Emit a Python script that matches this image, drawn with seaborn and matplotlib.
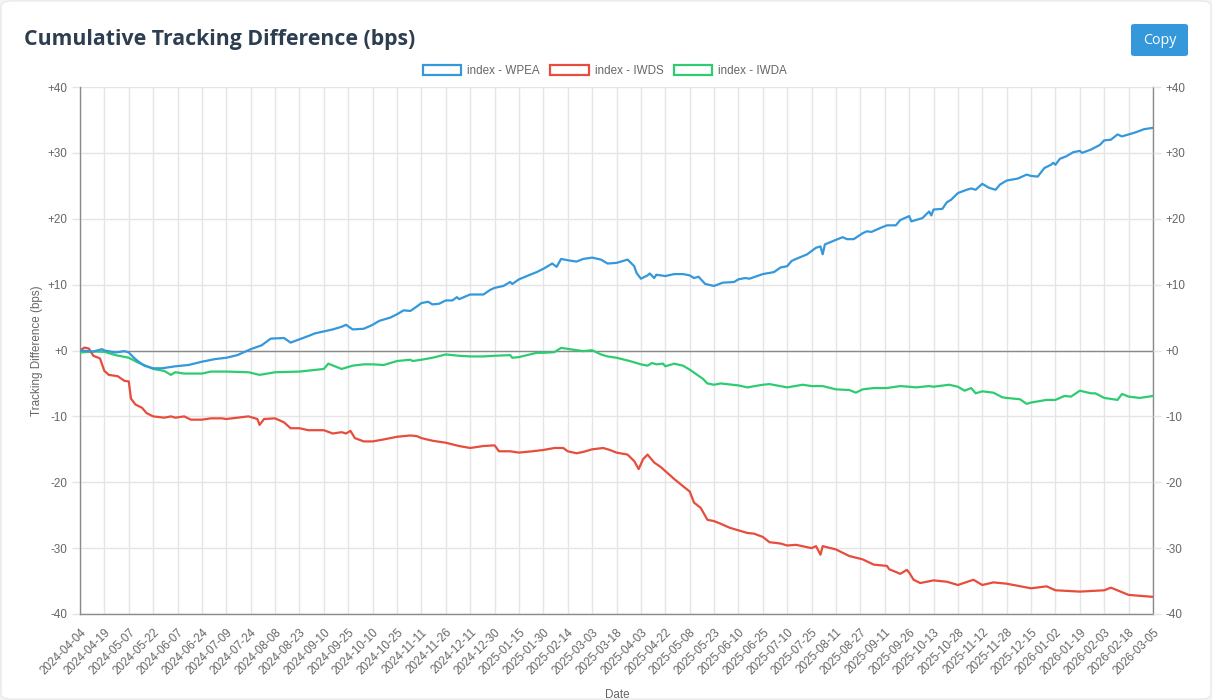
import matplotlib
matplotlib.use('Agg')
import matplotlib.pyplot as plt
import seaborn as sns
import pandas as pd
from matplotlib.patches import Patch, FancyBboxPatch

# ---------------- data ----------------
tick_labels = [
    "2024-04-04", "2024-04-19", "2024-05-07", "2024-05-22", "2024-06-07", "2024-06-24",
    "2024-07-09", "2024-07-24", "2024-08-08", "2024-08-23", "2024-09-10", "2024-09-25",
    "2024-10-10", "2024-10-25", "2024-11-11", "2024-11-26", "2024-12-11", "2024-12-30",
    "2025-01-15", "2025-01-30", "2025-02-14", "2025-03-03", "2025-03-18", "2025-04-03",
    "2025-04-22", "2025-05-08", "2025-05-23", "2025-06-10", "2025-06-25", "2025-07-10",
    "2025-07-25", "2025-08-11", "2025-08-27", "2025-09-11", "2025-09-26", "2025-10-13",
    "2025-10-28", "2025-11-12", "2025-11-28", "2025-12-15", "2026-01-02", "2026-01-19",
    "2026-02-03", "2026-02-18", "2026-03-05",
]
TICK_EVERY = 11          # trading days between labelled ticks
series_names = ["index - WPEA", "index - IWDS", "index - IWDA"]
series_colors = ["#3498db", "#e74c3c", "#2ecc71"]
y_ticks = [-40, -30, -20, -10, 0, 10, 20, 30, 40]

# (trading-day index, cumulative tracking difference in bps)
wpea = [(0,0.0),(6,-0.15),(10,0.2),(11,0.0),(16,-0.3),(20,-0.1),(22,-0.3),(24,-1.0),(26,-1.6),(29,-2.3),
        (33,-2.7),(37,-2.7),(43,-2.4),(49,-2.2),(55,-1.7),(61,-1.3),(66,-1.1),(71,-0.7),(77,0.2),(82,0.8),
        (86,1.8),(92,1.9),(95,1.2),(99,1.7),(103,2.2),(106,2.6),(110,2.9),(114,3.2),(118,3.6),(120,3.9),
        (123,3.2),(128,3.3),(132,3.9),(135,4.5),(140,5.0),(143,5.5),(146,6.1),(149,6.0),(152,6.7),(154,7.2),
        (157,7.4),(159,7.0),(162,7.1),(165,7.6),(168,7.6),(170,8.1),(171,7.8),(176,8.5),(182,8.5),(185,9.2),
        (187,9.5),(191,9.8),(194,10.4),(195,10.1),(198,10.8),(203,11.5),(206,11.9),(209,12.4),(213,13.2),(215,12.7),
        (217,13.9),(220,13.7),(224,13.5),(227,13.9),(231,14.1),(235,13.8),(238,13.2),(242,13.3),(247,13.8),(250,12.8),
        (251,11.8),(253,10.9),(256,11.4),(257,11.7),(259,11.0),(260,11.5),(264,11.3),(268,11.6),(272,11.6),(275,11.4),
        (277,11.0),(279,11.2),(282,10.1),(286,9.8),(290,10.3),(295,10.4),(297,10.8),(300,11.0),(302,10.9),(308,11.6),
        (313,11.9),(316,12.6),(319,12.8),(321,13.6),(323,13.9),(328,14.6),(332,15.6),(334,15.8),(335,14.6),(336,16.1),
        (341,16.8),(344,17.2),(346,16.9),(349,16.9),(353,17.8),(355,18.1),(357,18.0),(361,18.6),(364,19.0),(368,19.0),
        (370,19.8),(374,20.4),(375,19.6),(379,20.0),(380,20.1),(383,21.1),(384,20.5),(385,21.4),(389,21.5),(391,22.5),
        (393,22.9),(396,23.9),(400,24.4),(402,24.6),(404,24.4),(407,25.3),(410,24.7),(413,24.4),(415,25.2),(418,25.8),
        (423,26.1),(427,26.7),(429,26.5),(432,26.4),(435,27.7),(438,28.2),(439,28.5),(440,28.2),(442,29.1),(445,29.5),
        (448,30.1),(451,30.3),(452,30.0),(456,30.5),(460,31.2),(462,31.9),(465,32.0),(468,32.8),(470,32.5),(473,32.8),
        (476,33.1),(480,33.6),(482,33.7),(484,33.8)]

iwds = [(0,0.0),(2,0.45),(4,0.3),(6,-0.8),(9,-1.2),(11,-3.1),(13,-3.7),(17,-3.9),(20,-4.6),(22,-4.7),
        (23,-7.3),(25,-8.2),(28,-8.7),(30,-9.5),(33,-10.0),(38,-10.2),(41,-10.0),(43,-10.2),(47,-10.0),(50,-10.5),
        (55,-10.5),(59,-10.3),(64,-10.3),(66,-10.4),(76,-10.0),(80,-10.4),(81,-11.3),(83,-10.4),(88,-10.3),(92,-10.9),
        (95,-11.8),(99,-11.8),(103,-12.1),(110,-12.1),(114,-12.6),(118,-12.4),(120,-12.6),(122,-12.2),(124,-13.3),(128,-13.8),
        (132,-13.8),(137,-13.5),(143,-13.1),(149,-12.9),(152,-13.0),(154,-13.3),(159,-13.7),(165,-14.0),(171,-14.5),(176,-14.8),
        (182,-14.5),(187,-14.4),(189,-15.3),(194,-15.3),(198,-15.5),(204,-15.3),(209,-15.1),(214,-14.8),(218,-14.8),(220,-15.3),
        (224,-15.6),(227,-15.4),(231,-15.0),(236,-14.8),(239,-15.1),(242,-15.5),(247,-15.8),(250,-16.8),(252,-18.0),(254,-16.5),
        (256,-15.8),(259,-17.0),(262,-17.7),(264,-18.3),(268,-19.5),(272,-20.6),(275,-21.4),(277,-23.1),(280,-23.9),(283,-25.7),
        (286,-25.9),(289,-26.3),(293,-26.9),(297,-27.3),(301,-27.7),(304,-27.8),(308,-28.3),(311,-29.1),(316,-29.3),(319,-29.6),
        (323,-29.5),(330,-30.0),(332,-29.7),(334,-31.0),(335,-29.7),(341,-30.2),(347,-31.2),(353,-31.7),(358,-32.5),(364,-32.7),
        (365,-33.2),(370,-33.9),(373,-33.3),(374,-33.7),(376,-34.8),(379,-35.3),(385,-34.9),(391,-35.1),(396,-35.6),(403,-34.8),
        (407,-35.6),(412,-35.2),(418,-35.4),(429,-36.1),(436,-35.8),(440,-36.4),(451,-36.6),(462,-36.4),(465,-36.0),(473,-37.1),
        (484,-37.4)]

iwda = [(0,-0.3),(7,-0.15),(11,-0.2),(16,-0.7),(22,-1.1),(26,-1.8),(33,-2.8),(38,-3.1),(41,-3.7),(43,-3.3),
        (47,-3.5),(55,-3.5),(59,-3.2),(66,-3.2),(76,-3.3),(81,-3.7),(88,-3.3),(99,-3.2),(110,-2.8),(112,-2.0),
        (118,-2.8),(121,-2.5),(123,-2.3),(128,-2.1),(132,-2.1),(137,-2.2),(143,-1.6),(149,-1.4),(150,-1.6),(154,-1.4),
        (159,-1.1),(165,-0.6),(171,-0.8),(176,-0.9),(182,-0.9),(187,-0.8),(194,-0.7),(195,-1.1),(198,-1.0),(206,-0.35),
        (209,-0.35),(214,-0.25),(217,0.4),(220,0.25),(227,-0.1),(231,0.05),(235,-0.6),(238,-0.9),(242,-1.1),(248,-1.6),
        (253,-2.1),(256,-2.3),(258,-1.9),(260,-2.1),(263,-2.0),(264,-2.4),(268,-2.0),(272,-2.3),(275,-2.9),(278,-3.6),
        (281,-4.3),(283,-5.0),(286,-5.2),(289,-5.0),(297,-5.3),(301,-5.6),(308,-5.2),(311,-5.1),(319,-5.6),(326,-5.2),
        (330,-5.4),(335,-5.4),(341,-5.9),(347,-6.0),(350,-6.4),(353,-5.9),(358,-5.7),(364,-5.7),(370,-5.4),(374,-5.5),
        (377,-5.6),(383,-5.4),(385,-5.5),(392,-5.2),(396,-5.5),(399,-6.1),(402,-5.7),(404,-6.5),(407,-6.2),(412,-6.4),
        (416,-7.1),(418,-7.2),(424,-7.4),(427,-8.1),(429,-7.9),(436,-7.5),(440,-7.5),(444,-6.9),(447,-7.0),(451,-6.1),
        (456,-6.5),(458,-6.5),(462,-7.2),(468,-7.5),(470,-6.6),(473,-7.0),(478,-7.2),(484,-6.9)]

# ---------------- build table ----------------
rows = []
for name, pts in zip(series_names, [wpea, iwds, iwda]):
    for d, v in pts:
        rows.append({"day": d, "td": v, "series": name})
df = pd.DataFrame(rows)

# ---------------- style ----------------
sns.set_theme(style="white")
plt.rcParams['font.family'] = ['Liberation Sans', 'DejaVu Sans']
TXT = "#666666"
GRID = "#e5e5e5"
AX = "#8a8a8a"
W, H = 1212, 700

fig = plt.figure(figsize=(W / 100, H / 100), dpi=100)
fig.patch.set_facecolor("#f3f4f6")
card = FancyBboxPatch((1 / W, 1 / H), 1 - 2 / W, 1 - 2 / H,
                      boxstyle="round,pad=0,rounding_size=0.008",
                      transform=fig.transFigure, facecolor="white",
                      edgecolor="#e6e6e6", lw=0.8, zorder=-10)
fig.patches.append(card)

ax = fig.add_axes([80 / W, 86 / H, 1073 / W, 527 / H])
ax.set_facecolor("none")
ax.set_zorder(2)

n_last = TICK_EVERY * (len(tick_labels) - 1)
palette = dict(zip(series_names, series_colors))
sns.lineplot(data=df, x="day", y="td", hue="series", palette=palette,
             hue_order=series_names[::-1], estimator=None, sort=True,
             linewidth=1.6, legend=False, ax=ax, zorder=3)

ax.set_xlim(0, n_last)
ax.set_ylim(y_ticks[0], y_ticks[-1])

def fmt(v):
    return f"+{v}" if v >= 0 else f"{v}"

ax.set_xticks(list(range(0, n_last + 1, TICK_EVERY)))
ax.set_xticklabels(tick_labels, rotation=45, ha="right", rotation_mode="anchor",
                   fontsize=8.4, color=TXT)
ax.set_yticks(y_ticks)
ax.set_yticklabels([fmt(v) for v in y_ticks], fontsize=8.4, color=TXT)
ax.tick_params(axis="both", length=6, width=1, color=GRID, pad=3)
ax.grid(True, color=GRID, lw=1)
ax.set_axisbelow(True)
ax.axhline(0, color=AX, lw=1, zorder=2)

for s in ["left", "right", "bottom"]:
    ax.spines[s].set_color(AX)
    ax.spines[s].set_linewidth(1)
ax.spines["top"].set_visible(False)

ax2 = ax.twinx()
ax2.set_ylim(y_ticks[0], y_ticks[-1])
ax2.set_yticks(y_ticks)
ax2.set_yticklabels([fmt(v) for v in y_ticks], fontsize=8.4, color=TXT)
ax2.tick_params(axis="y", length=6, width=1, color=GRID, pad=3)
for s in ["left", "right", "bottom", "top"]:
    ax2.spines[s].set_visible(False)

ax.set_xlabel("")
ax.set_ylabel("Tracking Difference (bps)", fontsize=8.4, color=TXT, labelpad=3)
fig.text(617 / W, 1 - 695 / H, "Date", ha="center", va="center", fontsize=8.4, color=TXT)

# legend
handles = [Patch(facecolor="white", edgecolor=c, lw=1.6, label=n)
           for n, c in zip(series_names, series_colors)]
fig.legend(handles=handles, loc="center", bbox_to_anchor=(605 / W, 1 - 71 / H),
           ncol=3, frameon=False, fontsize=8.4, handlelength=3.3, handleheight=1.0,
           handletextpad=0.5, columnspacing=0.9, labelcolor=TXT)

# title
fig.text(24 / W, 1 - 39 / H, "Cumulative Tracking Difference (bps)", ha="left", va="center",
         fontsize=15.3, fontweight="bold", color="#2c3e50",
         family=["Open Sans", "DejaVu Sans"])

# copy button
btn = FancyBboxPatch((1131 / W, 1 - 56 / H), 57 / W, 32 / H,
                     boxstyle="round,pad=0,rounding_size=0.003",
                     transform=fig.transFigure, facecolor="#3498db",
                     edgecolor="none", zorder=5)
fig.patches.append(btn)
fig.text(1159.5 / W, 1 - 40 / H, "Copy", ha="center", va="center", fontsize=10.3,
         color="white", family=["Open Sans", "DejaVu Sans"], zorder=6)

fig.savefig("out.png", dpi=100, facecolor=fig.get_facecolor())
